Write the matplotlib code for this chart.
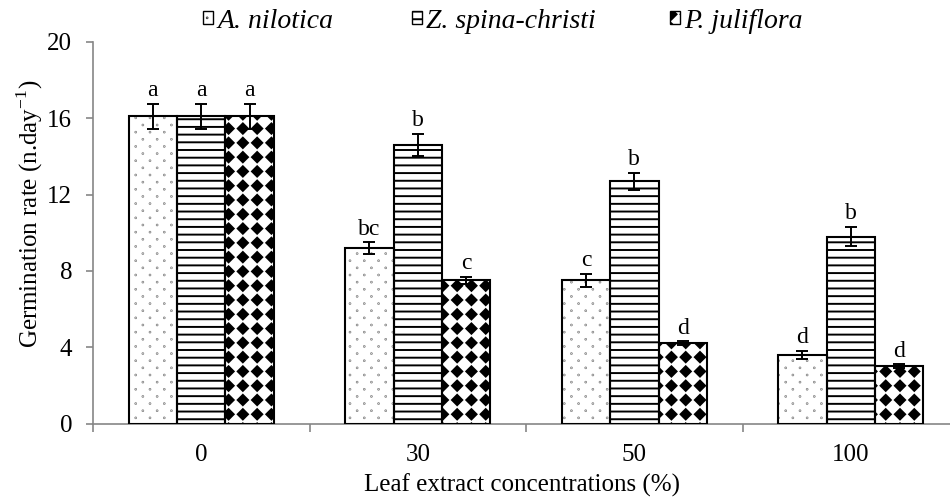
import numpy as np
import matplotlib
matplotlib.use("Agg")
import matplotlib.pyplot as plt
from matplotlib import hatch as mhatch
from matplotlib.path import Path
from matplotlib.patches import Patch
from matplotlib.ticker import FixedLocator

# ---- data -------------------------------------------------------------
concentrations = ["0", "30", "50", "100"]
species = ["A. nilotica", "Z. spina-christi", "P. juliflora"]

nilotica = [16.1, 9.2, 7.5, 3.6]
spina_christi = [16.1, 14.6, 12.7, 9.8]
juliflora = [16.1, 7.5, 4.2, 3.0]

nilotica_err = [0.65, 0.3, 0.35, 0.2]
spina_christi_err = [0.65, 0.6, 0.45, 0.5]
juliflora_err = [0.65, 0.2, 0.1, 0.1]

nilotica_letters = ["a", "bc", "c", "d"]
spina_christi_letters = ["a", "b", "b", "b"]
juliflora_letters = ["a", "c", "d", "d"]

yticks = [0, 4, 8, 12, 16, 20]


# ---- custom fill patterns ---------------------------------------------
class LineHatch(mhatch.HatchPatternBase):
    """Thick horizontal rules ('-')."""
    def __init__(self, hatch, density):
        self.num_lines = 13 * hatch.count('-')
        self.num_vertices = 2 * self.num_lines

    def set_vertices_and_codes(self, vertices, codes):
        ys = (np.arange(self.num_lines) + 0.5) / self.num_lines
        vertices[0::2, 0] = 0.0
        vertices[0::2, 1] = ys
        vertices[1::2, 0] = 1.0
        vertices[1::2, 1] = ys
        codes[0::2] = Path.MOVETO
        codes[1::2] = Path.LINETO


class DotHatch(mhatch.HatchPatternBase):
    """Sparse staggered dots ('.')."""
    ncols, nrows = 7, 14

    def __init__(self, hatch, density):
        k = hatch.count('.')
        self.centers = []
        if k:
            for r in range(self.nrows):
                y = (r + 0.5) / self.nrows
                if r % 2 == 0:
                    xs = np.arange(self.ncols + 1) / self.ncols
                else:
                    xs = (np.arange(self.ncols) + 0.5) / self.ncols
                self.centers += [(x, y) for x in xs]
        self.shape = Path.unit_circle()
        self.num_vertices = len(self.centers) * len(self.shape.vertices)

    def set_vertices_and_codes(self, vertices, codes):
        n = len(self.shape.vertices)
        for i, (cx, cy) in enumerate(self.centers):
            vertices[i * n:(i + 1) * n] = self.shape.vertices * 0.003 + (cx, cy)
            codes[i * n:(i + 1) * n] = self.shape.codes


class DiamondHatch(mhatch.HatchPatternBase):
    """Checker of filled diamonds ('x')."""
    n = 7

    def __init__(self, hatch, density):
        k = hatch.count('x')
        self.centers = []
        if k:
            g = np.arange(self.n + 1) / self.n
            self.centers = [(x, y) for x in g for y in g]
        self.num_vertices = 5 * len(self.centers)

    def set_vertices_and_codes(self, vertices, codes):
        h = 0.36 / self.n
        shape = np.array([[0, h], [h, 0], [0, -h], [-h, 0], [0, h]])
        for i, (cx, cy) in enumerate(self.centers):
            vertices[i * 5:(i + 1) * 5] = shape + (cx, cy)
            codes[i * 5:(i + 1) * 5] = [Path.MOVETO, Path.LINETO, Path.LINETO,
                                        Path.LINETO, Path.CLOSEPOLY]


mhatch._hatch_types[:] = [LineHatch, DotHatch, DiamondHatch]

# ---- styling ------------------------------------------------------------
plt.rcParams['font.family'] = ['Liberation Serif', 'DejaVu Serif']
plt.rcParams['hatch.linewidth'] = 1.4
plt.rcParams['mathtext.fontset'] = 'custom'
plt.rcParams['mathtext.rm'] = 'Liberation Serif'

series = [
    (nilotica, nilotica_err, nilotica_letters, '.', '#6f6f6f'),
    (spina_christi, spina_christi_err, spina_christi_letters, '-', 'black'),
    (juliflora, juliflora_err, juliflora_letters, 'x', 'black'),
]

fig = plt.figure(figsize=(9.5, 4.97), dpi=100)
ax = fig.add_axes([93 / 950, 1 - 423.5 / 497, 1 - 93 / 950, (423.5 - 42) / 497])

x = np.arange(len(concentrations))
width = 0.2235
offsets = [-width, 0, width]

for (vals, errs, letters, hatch, hcol), off in zip(series, offsets):
    pos = x + off
    ax.bar(pos, vals, width, color='white', edgecolor=hcol, linewidth=0,
           hatch=hatch, zorder=2)
    ax.bar(pos, vals, width, fill=False, edgecolor='black', linewidth=1.5,
           zorder=3)
    ax.errorbar(pos, vals, yerr=errs, fmt='none', ecolor='black',
                elinewidth=1.4, capsize=4.5, capthick=1.4, zorder=4)
    for px, v, e, lab in zip(pos, vals, errs, letters):
        ax.annotate(lab, (px, v + e), xytext=(0, 2), textcoords='offset points',
                    ha='center', va='bottom', fontsize=17)

ax.set_ylim(0, 20)
ax.set_xlim(-0.5, 3.458)
ax.set_yticks(yticks)
ax.set_xticks(x)
ax.set_xticklabels(concentrations)
ax.xaxis.set_minor_locator(FixedLocator([-0.5, 0.5, 1.5, 2.5]))

spine_col = '#868686'
for s in ['top', 'right']:
    ax.spines[s].set_visible(False)
for s in ['left', 'bottom']:
    ax.spines[s].set_color(spine_col)
    ax.spines[s].set_linewidth(1.2)

ax.tick_params(axis='y', which='major', direction='out', length=5, width=1.2,
               color=spine_col, labelsize=18, pad=10)
ax.tick_params(axis='x', which='major', length=0, labelsize=18, pad=15)
ax.tick_params(axis='x', which='minor', direction='out', length=6, width=1.2,
               color=spine_col)

ax.set_ylabel('Germination rate (n.day$^{-1}$)', fontsize=18)
ax.yaxis.set_label_coords(-0.056, 0.549)
ax.set_xlabel('Leaf extract concentrations (%)', fontsize=18, labelpad=5)

# legend across the top
legend_x = [203, 412, 670]
for (vals, errs, letters, hatch, hcol), name, lx in zip(series, species, legend_x):
    h = Patch(facecolor='white', edgecolor='black', hatch=hatch, linewidth=1)
    fig.legend(handles=[h], labels=[name], loc='center left',
               bbox_to_anchor=(lx / 950, 1 - 21 / 497), frameon=False,
               handlelength=0.36, handleheight=0.36, handletextpad=0.15,
               borderpad=0, borderaxespad=0,
               prop={'family': 'Liberation Serif', 'style': 'italic', 'size': 20})

fig.savefig('out.png', dpi=100)
